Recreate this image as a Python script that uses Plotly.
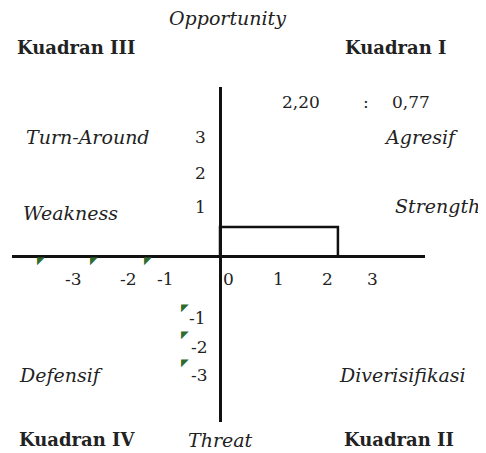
import plotly.graph_objects as go

# ---- data ----
strength_weakness = 2.20      # x value (S - W)
opportunity_threat = 0.77     # y value (O - T)
x_tick_labels = ["-3", "-2", "-1", "0", "1", "2", "3"]
y_tick_labels = ["3", "2", "1", "-1", "-2", "-3"]
quadrant_names = ["Kuadran III", "Kuadran I", "Kuadran IV", "Kuadran II"]
strategy_names = ["Turn-Around", "Agresif", "Defensif", "Diverisifikasi"]
axis_names = ["Opportunity", "Threat", "Weakness", "Strength"]

# ---- layout geometry (pixels in the 486x453 window; page body has 8px margin) ----
OFF = 8
W, H = 486 - OFF, 453 - OFF
PL, PR, PT, PB = 12, 425, 87, 422          # plot box edges in window pixels
X0PX, XUNIT = 220, 53.6
Y0PX, YUNIT = 256.5, 38.3
L, T = PL - OFF, PT - OFF
R, B = W - (PR - OFF), H - (PB - OFF)
PW, PH = PR - PL, PB - PT
xr = [(PL - X0PX) / XUNIT, (PR - X0PX) / XUNIT]
yr = [(Y0PX - PB) / YUNIT, (Y0PX - PT) / YUNIT]


def px(x, y):
    return (x - PL) / PW, (PB - y) / PH


SERIF = "DejaVu Serif"
TXT = "#222222"
ann = []


def add(text, x, y, size=15, italic=False, bold=False, color=TXT, font=SERIF):
    xp, yp = px(x, y)
    t = text
    if bold:
        t = "<b>" + t + "</b>"
    if italic:
        t = "<i>" + t + "</i>"
    ann.append(dict(text=t, x=xp, y=yp, xref="paper", yref="paper",
                    xanchor="center", yanchor="middle", showarrow=False,
                    font=dict(family=font, size=size, color=color)))


# quadrant titles
for name, pos in zip(quadrant_names, [(76, 47), (396, 47), (77, 440), (399, 440)]):
    add(name, *pos, size=18, bold=True)
# strategies
for name, pos in zip(strategy_names, [(88, 137), (421, 137), (61, 375), (402, 375)]):
    add(name, *pos, size=19, italic=True)
# axis names
for name, pos in zip(axis_names, [(227, 18), (220, 440), (70, 213), (437, 206)]):
    add(name, *pos, size=19, italic=True)
# coordinates label
add(f"{strength_weakness:.2f}".replace(".", ","), 301, 102, size=17)
add(":", 366, 102, size=17)
add(f"{opportunity_threat:.2f}".replace(".", ","), 411, 102, size=17)
# tick labels
for lab, xpx in zip(x_tick_labels, [73, 128, 165, 228, 278, 327, 372]):
    add(lab, xpx, 279, size=17)
for lab, pos in zip(y_tick_labels, [(200, 137), (200, 173), (200, 207),
                                    (197, 318), (199, 347), (199, 375)]):
    add(lab, *pos, size=17)
# small green cell flags
for pos in [(41, 260), (94, 260), (148, 260), (185, 307), (185, 334), (185, 362)]:
    add("◤", *pos, size=10, color="#2f6a2f", font="DejaVu Sans")

fig = go.Figure()
fig.add_trace(go.Scatter(
    x=[0, 0, strength_weakness, strength_weakness, 0],
    y=[0, opportunity_threat, opportunity_threat, 0, 0],
    mode="lines", line=dict(color="#111111", width=2.5),
    hoverinfo="skip", showlegend=False))

fig.update_layout(
    width=W, height=H, margin=dict(l=L, r=R, t=T, b=B, pad=0),
    paper_bgcolor="white", plot_bgcolor="white",
    annotations=ann, showlegend=False,
)
fig.update_xaxes(range=xr, showgrid=False, showticklabels=False, ticks="",
                 zeroline=True, zerolinecolor="#111111", zerolinewidth=3,
                 showline=False, fixedrange=True)
fig.update_yaxes(range=yr, showgrid=False, showticklabels=False, ticks="",
                 zeroline=True, zerolinecolor="#111111", zerolinewidth=3,
                 showline=False, fixedrange=True)

fig.write_html("out.html", config={"displayModeBar": False})
